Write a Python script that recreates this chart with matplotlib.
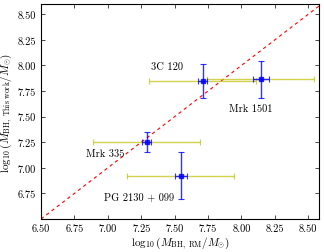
import matplotlib
matplotlib.use("Agg")
import matplotlib.pyplot as plt
import numpy as np

plt.rcParams['font.family'] = 'serif'
plt.rcParams['font.serif'] = ['cmr10']
plt.rcParams['mathtext.fontset'] = 'cm'
plt.rcParams['axes.formatter.use_mathtext'] = True

# data
names = ['3C 120', 'Mrk 1501', 'Mrk 335', 'PG 2130 + 099']
m_rm = [7.71, 8.145, 7.29, 7.547]
m_rm_err = [0.035, 0.06, 0.035, 0.045]
m_this = [7.847, 7.865, 7.251, 6.921]
m_this_err = [0.165, 0.18, 0.10, 0.23]
m_other = [7.71, 8.14, 7.29, 7.543]
m_other_err = [0.40, 0.40, 0.40, 0.40]
lab_x = [7.32, 7.91, 6.84, 6.97]
lab_y = [7.99, 7.585, 7.14, 6.71]

fig = plt.figure(figsize=(3.24, 2.53), dpi=100)
ax = fig.add_axes([41/324, 1-220/253, 278/324, 215/253])

ax.plot([6.5, 8.6], [6.5, 8.6], 'r--', lw=0.8, dashes=(3, 3))
ax.errorbar(m_other, m_this, xerr=m_other_err, fmt='none', ecolor='y',
            alpha=0.7, elinewidth=1.0, capsize=2, capthick=0.8)
ax.errorbar(m_rm, m_this, xerr=m_rm_err, yerr=m_this_err, fmt='s', color='b',
            ecolor='b', ms=3, elinewidth=1.0, capsize=2, capthick=0.8, alpha=0.8)

for n, x, y in zip(names, lab_x, lab_y):
    ax.text(x, y, n, fontsize=7.5, va='center')

ax.set_xlim(6.5, 8.58)
ax.set_ylim(6.5, 8.6)
ax.set_xticks(np.arange(6.5, 8.51, 0.25))
ax.set_yticks(np.arange(6.75, 8.51, 0.25))
ax.set_xticklabels(['%.2f' % v for v in np.arange(6.5, 8.51, 0.25)])
ax.set_yticklabels(['%.2f' % v for v in np.arange(6.75, 8.51, 0.25)])
ax.tick_params(direction='in', top=True, right=True, labelsize=7.5, length=3, width=0.5)
for s in ax.spines.values():
    s.set_linewidth(0.8)

ax.set_xlabel(r'$\log_{10}(M_{\rm BH,\ RM}/M_{\odot})$', fontsize=8, labelpad=1)
ax.set_ylabel(r'$\log_{10}(M_{\rm BH,\ This\ work}/M_{\odot})$', fontsize=8, labelpad=2)

fig.savefig('out.png', dpi=100)
